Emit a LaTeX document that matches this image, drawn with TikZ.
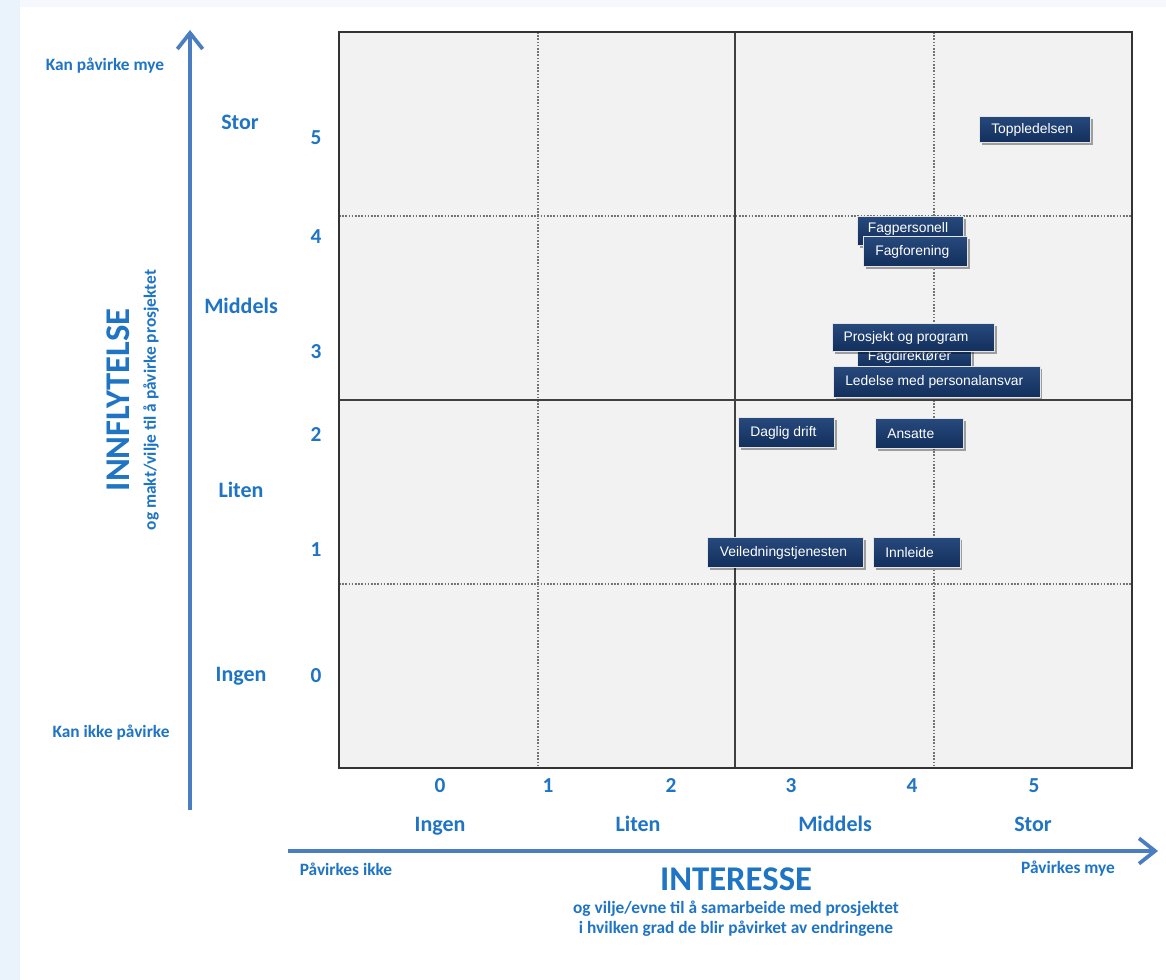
\documentclass[tikz,border=0pt]{standalone}
\usepackage{fontspec}
\setmainfont{Carlito}
\newfontfamily\arialf{Liberation Sans}
\usetikzlibrary{arrows.meta,shadows}
\definecolor{lblue}{HTML}{1F74C4}
\definecolor{axblue}{HTML}{4A7EC0}
\definecolor{navytop}{HTML}{27497C}
\definecolor{navybot}{HTML}{122F5C}
\definecolor{chartbg}{HTML}{F2F2F2}
\definecolor{stripbg}{HTML}{EAF2FC}
\tikzset{
  lab/.style={text=lblue, font=\bfseries\fontsize{13pt}{15pt}\selectfont, inner sep=0pt},
  lvl/.style={text=lblue, font=\bfseries\fontsize{16.5pt}{19pt}\selectfont, inner sep=0pt, text height=1.6ex, text depth=0.3ex},
  num/.style={text=lblue, font=\bfseries\fontsize{16pt}{18pt}\selectfont, inner sep=0pt, text height=1.6ex, text depth=0pt},
  big/.style={text=lblue, font=\bfseries\fontsize{26pt}{30pt}\selectfont, inner sep=0pt},
  sub/.style={text=lblue, font=\bfseries\fontsize{13pt}{15pt}\selectfont, inner sep=0pt},
  axis/.style={draw=axblue, line width=3pt, -{Straight Barb[length=12pt,width=19pt,line width=2.8pt]}},
  dotline/.style={draw=black!55, line width=0.9pt, dash pattern=on 1.2pt off 1.2pt},
  solidline/.style={draw=black!75, line width=0.9pt},
  stake/.style={draw=white!80!gray, line width=0.7pt, top color=navytop, bottom color=navybot,
    inner sep=0pt, anchor=north west,
    drop shadow={shadow xshift=1.6pt, shadow yshift=-1.6pt, opacity=0.35, fill=black}},
  staketext/.style={text=white, font=\arialf\fontsize{10.4pt}{12pt}\selectfont, inner sep=0pt, anchor=west}
}
\begin{document}
\begin{tikzpicture}[x=0.75pt,y=-0.75pt]
\useasboundingbox (0,0) rectangle (1166,980);
\fill[white] (0,0) rectangle (1166,980);
\fill[stripbg] (0,0) rectangle (20,980);
\fill[stripbg!50!white] (20,0) rectangle (1166,7);

% chart area
\coordinate (c-nw) at (339,32);
\coordinate (c-se) at (1132,768);
\fill[chartbg] (c-nw) rectangle (c-se);
\coordinate (v1t) at (538,32); \coordinate (v1b) at (538,768);
\coordinate (v2t) at (735,32); \coordinate (v2b) at (735,768);
\coordinate (v3t) at (934,32); \coordinate (v3b) at (934,768);
\coordinate (h1l) at (339,216); \coordinate (h1r) at (1132,216);
\coordinate (h2l) at (339,400); \coordinate (h2r) at (1132,400);
\coordinate (h3l) at (339,584); \coordinate (h3r) at (1132,584);
\draw[dotline] (v1t) -- (v1b);
\draw[dotline] (v3t) -- (v3b);
\draw[dotline] (h1l) -- (h1r);
\draw[dotline] (h3l) -- (h3r);
\draw[solidline] (v2t) -- (v2b);
\draw[solidline] (h2l) -- (h2r);
\draw[draw=black!80, line width=1.6pt] (c-nw) rectangle (c-se);

% axes
\coordinate (ya0) at (190,810);
\coordinate (ya1) at (190,30);
\coordinate (xa0) at (288,851);
\coordinate (xa1) at (1158,851);
\draw[axis] (ya0) -- (ya1);
\draw[axis] (xa0) -- (xa1);

% left labels
\node[lab] (kpm) at (105,66) {Kan påvirke mye};
\node[lab] (kip) at (111,733) {Kan ikke påvirke};
\node[lvl] (ls) at (240,125) {Stor};
\node[lvl] (lm) at (241,309) {Middels};
\node[lvl] (ll) at (241,493) {Liten};
\node[lvl] (li) at (241,677) {Ingen};
\node[num] (n5) at (316,139) {5};
\node[num] (n4) at (316,238) {4};
\node[num] (n3) at (316,353) {3};
\node[num] (n2) at (316,436) {2};
\node[num] (n1) at (316,551) {1};
\node[num] (n0) at (316,677) {0};
\node[big, rotate=90] (infl) at (118,400) {INNFLYTELSE};
\node[sub, rotate=90] (inflsub) at (151,400) {og makt/vilje til å påvirke prosjektet};

% bottom labels
\node[num] (b0) at (440,787) {0};
\node[num] (b1) at (548,787) {1};
\node[num] (b2) at (671,787) {2};
\node[num] (b3) at (791,787) {3};
\node[num] (b4) at (912,787) {4};
\node[num] (b5) at (1034,787) {5};
\node[lvl] (bi) at (440,827) {Ingen};
\node[lvl] (bl) at (638,827) {Liten};
\node[lvl] (bm) at (835,827) {Middels};
\node[lvl] (bs) at (1033,827) {Stor};
\node[lab] (pik) at (346,869) {Påvirkes ikke};
\node[lab] (pmy) at (1068,869) {Påvirkes mye};
\node[big] (inter) at (736,879) {INTERESSE};
\node[sub] (intsub1) at (736,909) {og vilje/evne til å samarbeide med prosjektet};
\node[sub] (intsub2) at (736,929) {i hvilken grad de blir påvirket av endringene};

% stakeholders
\node[stake, minimum width=83.25pt, minimum height=19.5pt] (top) at (979,116) {};
\node[staketext] (top-t) at ([xshift=9pt]top.west) {Toppledelsen};

\node[stake, minimum width=79.5pt, minimum height=22pt] (fp) at (857,216) {};
\node[staketext] (fp-t) at ([xshift=8pt,yshift=1.5pt]fp.west) {Fagpersonell};
\node[stake, minimum width=78pt, minimum height=22.5pt] (ff) at (863,236) {};
\node[staketext] (ff-t) at ([xshift=9pt]ff.west) {Fagforening};

\node[stake, minimum width=85.5pt, minimum height=18pt] (fd) at (857,344) {};
\node[staketext] (fd-t) at ([xshift=8pt]fd.west) {Fagdirektører};
\node[stake, minimum width=121.5pt, minimum height=21pt] (pp) at (832,323) {};
\node[staketext] (pp-t) at ([xshift=8.5pt]pp.west) {Prosjekt og program};
\node[stake, minimum width=155pt, minimum height=23pt] (lp) at (833,366) {};
\node[staketext] (lp-t) at ([xshift=9pt]lp.west) {Ledelse med personalansvar};

\node[stake, minimum width=72pt, minimum height=22.5pt] (dd) at (738,417) {};
\node[staketext] (dd-t) at ([xshift=9pt]dd.west) {Daglig drift};
\node[stake, minimum width=66pt, minimum height=22.5pt] (an) at (875,418) {};
\node[staketext] (an-t) at ([xshift=9pt]an.west) {Ansatte};

\node[stake, minimum width=117pt, minimum height=22.5pt] (vt) at (707,537) {};
\node[staketext] (vt-t) at ([xshift=9.5pt]vt.west) {Veiledningstjenesten};
\node[stake, minimum width=65pt, minimum height=22.5pt] (in) at (873,537) {};
\node[staketext] (in-t) at ([xshift=9pt]in.west) {Innleide};
\end{tikzpicture}
\end{document}
